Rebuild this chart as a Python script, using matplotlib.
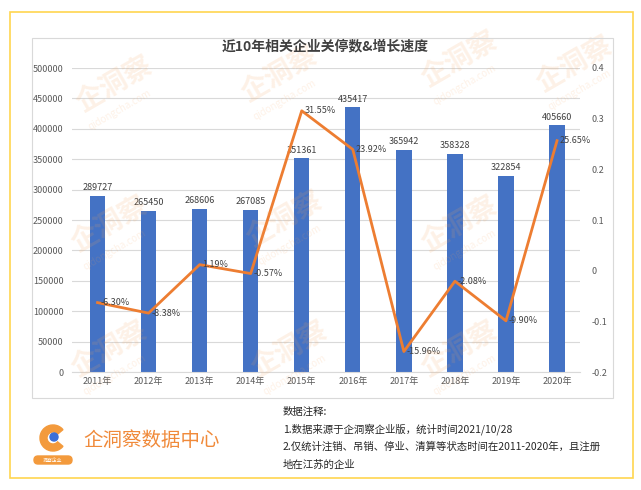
#近10年相关企业关停数 & 增长速度 chart
import matplotlib
matplotlib.use("Agg")
import matplotlib.pyplot as plt
from matplotlib.patches import Rectangle, Wedge, Circle, FancyBboxPatch

plt.rcParams['font.family'] = ['Noto Sans CJK SC', 'DejaVu Sans']

# data
years = ["2011年", "2012年", "2013年", "2014年", "2015年",
         "2016年", "2017年", "2018年", "2019年", "2020年"]
counts = [289727, 265450, 268606, 267085, 351361,
          435417, 365942, 358328, 322854, 405660]
growth = [-0.0630, -0.0838, 0.0119, -0.0057, 0.3155,
          0.2392, -0.1596, -0.0208, -0.0990, 0.2565]
left_ticks = list(range(0, 500001, 50000))
right_ticks = [-0.2, -0.1, 0, 0.1, 0.2, 0.3, 0.4]
right_labels = ["-0.2", "-0.1", "0", "0.1", "0.2", "0.3", "0.4"]

bar_color = "#4472C4"
line_color = "#ED7D31"
text_color = "#595959"

fig = plt.figure(figsize=(6.41, 4.90), dpi=100)

# outer yellow frame and inner chart box
fig.patches.append(Rectangle((10/641, 1-478/490), 623/641, 466/490, transform=fig.transFigure,
                             fill=False, edgecolor="#FFD54F", linewidth=1.2))
fig.patches.append(Rectangle((32/641, 1-398/490), 581/641, 360/490, transform=fig.transFigure,
                             fill=False, edgecolor="#D9D9D9", linewidth=0.8))

ax = fig.add_axes([72/641, 1-372/490, 508/641, 304/490])
x = range(len(years))
ax.bar(x, counts, width=0.3, color=bar_color, zorder=2)
ax.set_xlim(-0.5, 9.45)
ax.set_ylim(0, 500000)
ax.set_yticks(left_ticks)
ax.set_yticklabels([str(v) for v in left_ticks])
ax.set_xticks(list(x))
ax.set_xticklabels(years)
ax.grid(axis="y", color="#D9D9D9", linewidth=0.8, zorder=0)
for s in ["top", "right", "left"]:
    ax.spines[s].set_visible(False)
ax.spines["bottom"].set_color("#D9D9D9")
ax.tick_params(axis="both", length=0, labelsize=6.5, colors=text_color)
ax.tick_params(axis="y", pad=6)
for i, v in enumerate(counts):
    ax.text(i, v + 6000, str(v), ha="center", va="bottom", fontsize=6.5, color="#404040", zorder=4)

ax2 = ax.twinx()
ax2.plot(list(x), growth, color=line_color, linewidth=2, zorder=3)
ax2.set_ylim(-0.2, 0.4)
ax2.set_yticks(right_ticks)
ax2.set_yticklabels(right_labels)
for s in ["top", "right", "left", "bottom"]:
    ax2.spines[s].set_visible(False)
ax2.tick_params(axis="y", length=0, labelsize=6.5, colors=text_color, pad=8)
for i, g in enumerate(growth):
    ax2.text(i + 0.06, g, f"{g*100:.2f}%", ha="left", va="center", fontsize=6.5, color="#404040", zorder=4)

fig.text(325/641, 1-46/490, "近10年相关企业关停数&增长速度", ha="center", va="center",
         fontsize=10, fontweight="bold", color="#404040")

# faint watermarks
wm = [(115, 85), (280, 75), (460, 60), (575, 65), (110, 225), (285, 220), (460, 225),
      (110, 350), (290, 350), (460, 350)]
for px, py in wm:
    fig.text(px/641, 1-py/490, "企洞察", rotation=30, fontsize=20, fontweight="bold",
             color="#F7A35C", alpha=0.15, ha="center", va="center", zorder=0)
    fig.text((px+5)/641, 1-(py+25)/490, "qidongcha.com", rotation=30, fontsize=7,
             color="#F7A35C", alpha=0.15, ha="center", va="center", zorder=0)

# logo
lax = fig.add_axes([28/641, 1-468/490, 50/641, 50/490])
lax.set_xlim(0, 50)
lax.set_ylim(0, 50)
lax.axis("off")
lax.add_patch(Wedge((25, 30), 13, 40, 320, width=7, color="#F39A3C"))
lax.add_patch(Circle((26, 31), 4, color="#3B6FD8"))
lax.add_patch(FancyBboxPatch((6, 4), 38, 8, boxstyle="round,pad=0,rounding_size=4", color="#F39A3C"))
lax.text(25, 8, "洞察企业", ha="center", va="center", fontsize=3.5, color="white")
fig.text(83/641, 1-440/490, "企洞察数据中心", ha="left", va="center", fontsize=14, color="#F08A3A")

notes = ["数据注释:",
         "1.数据来源于企洞察企业版，统计时间2021/10/28",
         "2.仅统计注销、吊销、停业、清算等状态时间在2011-2020年，且注册",
         "地在江苏的企业"]
for k, line in enumerate(notes):
    fig.text(283/641, 1-(412 + 17.5*k)/490, line, ha="left", va="center", fontsize=7.5, color="#262626")

fig.savefig("out.png", dpi=100)
